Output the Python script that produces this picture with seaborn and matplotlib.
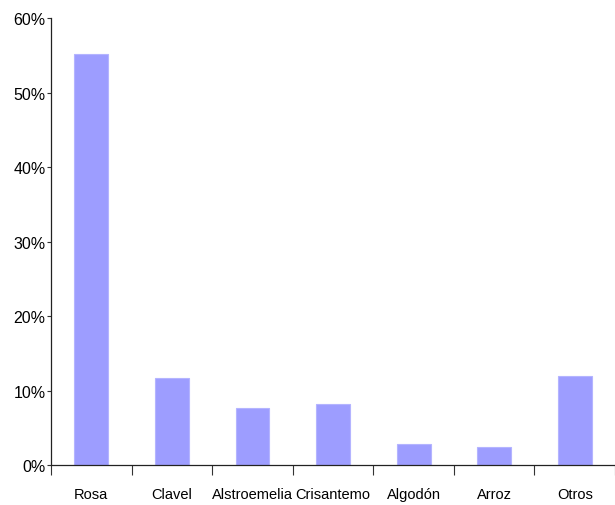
import matplotlib
matplotlib.use("Agg")
import matplotlib.pyplot as plt
import seaborn as sns
import numpy as np
import pandas as pd
from matplotlib.ticker import PercentFormatter, FixedLocator

cultivos = ["Rosa", "Clavel", "Alstroemelia", "Crisantemo", "Algodón", "Arroz", "Otros"]
participacion = [0.552, 0.117, 0.077, 0.082, 0.028, 0.024, 0.119]
y_ticks = [0, 0.1, 0.2, 0.3, 0.4, 0.5, 0.6]

sns.set_style("white")
plt.rcParams["font.family"] = ["Liberation Sans", "DejaVu Sans"]

df = pd.DataFrame({"cultivo": cultivos, "pct": participacion})

fig = plt.figure(figsize=(6.15, 5.06), dpi=100)
ax = fig.add_axes([0.083, 0.079, 0.917, 0.883])

sns.barplot(data=df, x="cultivo", y="pct", color="#9d9dff", saturation=1,
            width=0.42, edgecolor="#b4b4ff", linewidth=0.8, ax=ax)

ax.set_xlim(-0.5, len(cultivos) - 0.5)
ax.set_ylim(0, 0.6)
ax.set_yticks(y_ticks)
ax.yaxis.set_major_formatter(PercentFormatter(1.0, decimals=0))
ax.set_xlabel("")
ax.set_ylabel("")

# tick marks between categories, labels centred under bars
ax.xaxis.set_minor_locator(FixedLocator(np.arange(-0.5, len(cultivos), 1.0)))
ax.tick_params(axis="x", which="both", bottom=True)
ax.tick_params(axis="x", which="major", length=0, pad=16, labelsize=10.5, labelcolor="black")
ax.tick_params(axis="x", which="minor", length=7, width=0.8, direction="out", color="#333333")
ax.tick_params(axis="y", which="major", left=True, length=3, width=0.8, direction="out", pad=1,
               labelsize=11.5, color="#333333", labelcolor="black")

for s in ["top", "right"]:
    ax.spines[s].set_visible(False)
for s in ["left", "bottom"]:
    ax.spines[s].set_color("#222222")
    ax.spines[s].set_linewidth(0.9)

fig.savefig("out.png", dpi=100, facecolor="w")
